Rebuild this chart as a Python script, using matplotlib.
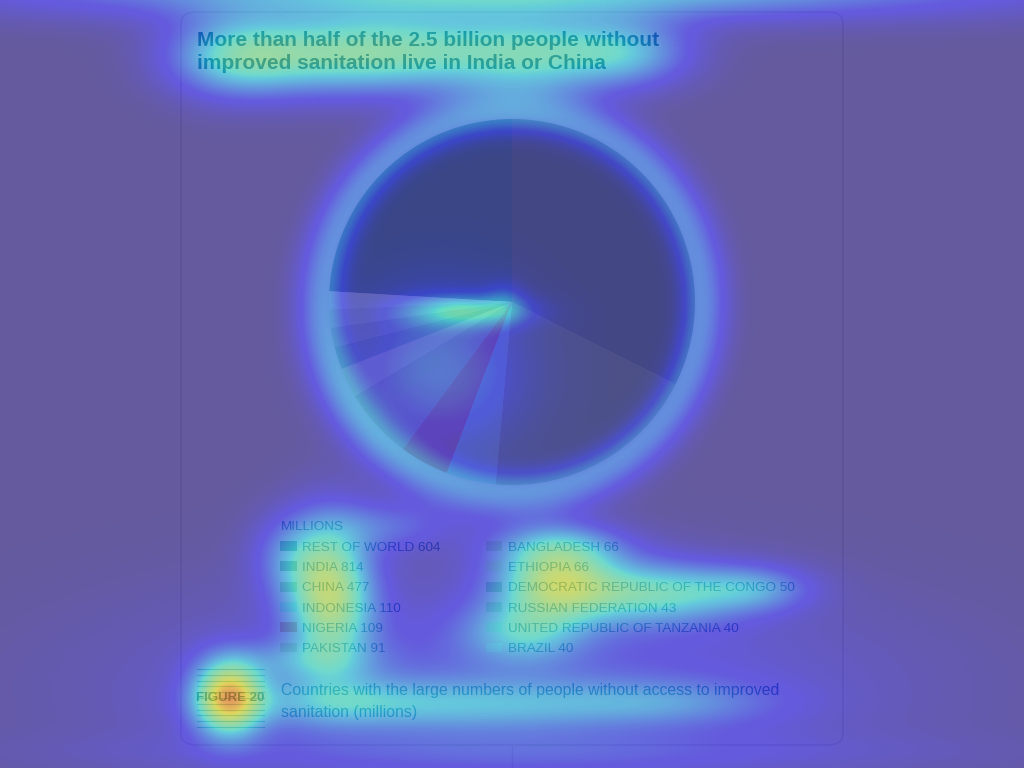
import numpy as np
import matplotlib
matplotlib.use("Agg")
import matplotlib.pyplot as plt
from matplotlib.patches import FancyBboxPatch

# data: people without improved sanitation (millions), legend order
countries = ["Rest of world", "India", "China", "Indonesia", "Nigeria", "Pakistan",
             "Bangladesh", "Ethiopia", "Democratic Republic of the Congo",
             "Russian Federation", "United Republic of Tanzania", "Brazil"]
millions = [604, 814, 477, 110, 109, 91, 66, 66, 50, 43, 40, 40]

title = "More than half of the 2.5 billion people without\nimproved sanitation live in India or China"
caption = "Countries with the large numbers of people without access to improved\nsanitation (millions)"

# slice colours (as they sit under the attention overlay)
slice_colors = ["#748c8c", "#868e8a", "#98a090", "#a0b8b0", "#b8887c", "#b0a49c",
                "#aca898", "#bcb8a4", "#94a094", "#a4aca0", "#b4bcac", "#c0c8bc"]

# attention hotspots of the overlay: x, y, sx, sy, strength (pixels)
hotspots = [
    (512, -12, 340, 22, 0.36),
    (230, 57, 45, 28, 0.26), (310, 54, 70, 28, 0.32), (420, 52, 70, 28, 0.30),
    (540, 54, 60, 28, 0.32), (630, 52, 45, 24, 0.24),
    (465, 311, 42, 11, 0.32), (505, 302, 14, 14, 0.12), (440, 370, 60, 55, 0.20),
    (512, 690, 260, 75, 0.15),
    (330, 592, 30, 50, 0.50), (290, 555, 28, 30, 0.16), (390, 525, 45, 18, 0.14),
    (555, 578, 42, 30, 0.46), (655, 592, 60, 22, 0.34), (755, 588, 40, 16, 0.20),
    (560, 545, 50, 15, 0.14), (520, 632, 40, 22, 0.22), (300, 660, 50, 14, 0.12),
    (228, 697, 24, 26, 0.62), (330, 702, 70, 18, 0.18), (480, 704, 90, 18, 0.16),
    (660, 702, 80, 16, 0.14), (512, 752, 320, 14, 0.06),
]
# halo round the pie: centre x, y, radius, inner / outer width, strength
ring = (512, 302, 188, 14, 20, 0.23)

W, H = 1024, 768


def fx(x):
    return x / W


def fy(y):
    return 1 - y / H


page = "#c8b4bc"
fig = plt.figure(figsize=(W / 100, H / 100), dpi=100, facecolor=page)

card = FancyBboxPatch((fx(181), fy(745)), fx(843) - fx(181), fy(12) - fy(745),
                      boxstyle="round,pad=0,rounding_size=0.015",
                      transform=fig.transFigure, facecolor=page,
                      edgecolor="#b8a4ac", linewidth=1.2, zorder=-5)
fig.patches.append(card)
fig.add_artist(plt.Line2D([fx(512), fx(512)], [0, fy(745)], transform=fig.transFigure,
                          color="#b8a4ac", linewidth=1, zorder=-4))

sans = ["Liberation Sans Narrow", "Liberation Sans", "DejaVu Sans"]
fig.text(fx(197), fy(31), title, ha="left", va="top", fontsize=15, fontweight="bold",
         family=sans, color="#28466e", linespacing=1.25)

r = 183
ax = fig.add_axes([fx(512 - r), fy(302 + r), fx(2 * r), fy(302 - r) - fy(302 + r)])
start = 90 + 360 * millions[0] / sum(millions)
wedges, _ = ax.pie(millions, colors=slice_colors, startangle=start, counterclock=False,
                   wedgeprops=dict(linewidth=0))
ax.set_xlim(-1, 1)
ax.set_ylim(-1, 1)
ax.set_aspect("auto")

labels = [f"{c.upper()} {v}" for c, v in zip(countries, millions)]
leg = fig.legend(wedges, labels, loc="upper left", bbox_to_anchor=(fx(275), fy(516)),
                 ncol=2, frameon=False, title="MILLIONS", alignment="left",
                 prop=dict(family=sans, size=9.7), title_fontproperties=dict(family=sans, size=9.7),
                 handlelength=1.2, handleheight=0.75, handletextpad=0.4,
                 labelspacing=0.57, columnspacing=3.4, borderaxespad=0)
for t in leg.get_texts():
    t.set_color("#56708c")
leg.get_title().set_color("#56708c")

# figure tag with stripes
for yy in np.linspace(669, 727, 11):
    fig.add_artist(plt.Line2D([fx(197), fx(264)], [fy(yy), fy(yy)], transform=fig.transFigure,
                              color="#7a8a9a", linewidth=0.8))
fig.text(fx(230), fy(698), "FIGURE 20", ha="center", va="center", fontsize=9.5,
         fontweight="bold", family=sans, color="#3c5a70")
fig.text(fx(281), fy(683), caption, ha="left", va="top", fontsize=11.4, family=sans,
         color="#4e6a90", linespacing=1.62)

# attention overlay
yy, xx = np.mgrid[0:H, 0:W].astype(float)
heat = np.zeros((H, W))
for cx, cy, sx, sy, a in hotspots:
    heat += a * np.exp(-((xx - cx) ** 2 / (2 * sx ** 2) + (yy - cy) ** 2 / (2 * sy ** 2)))
cx, cy, rr, s_in, s_out, a = ring
d = np.hypot(xx - cx, yy - cy) - rr
s = np.where(d < 0, s_in, s_out)
heat += a * np.exp(-d ** 2 / (2 * s ** 2))
heat = np.clip(heat, 0, 1)

ov = fig.add_axes([0, 0, 1, 1], zorder=10)
ov.imshow(heat, cmap="jet", vmin=0, vmax=1, alpha=0.5, extent=(0, W, H, 0),
          interpolation="bilinear", aspect="auto")
ov.set_xlim(0, W)
ov.set_ylim(H, 0)
ov.axis("off")

fig.savefig("out.png", dpi=100, facecolor=page)
